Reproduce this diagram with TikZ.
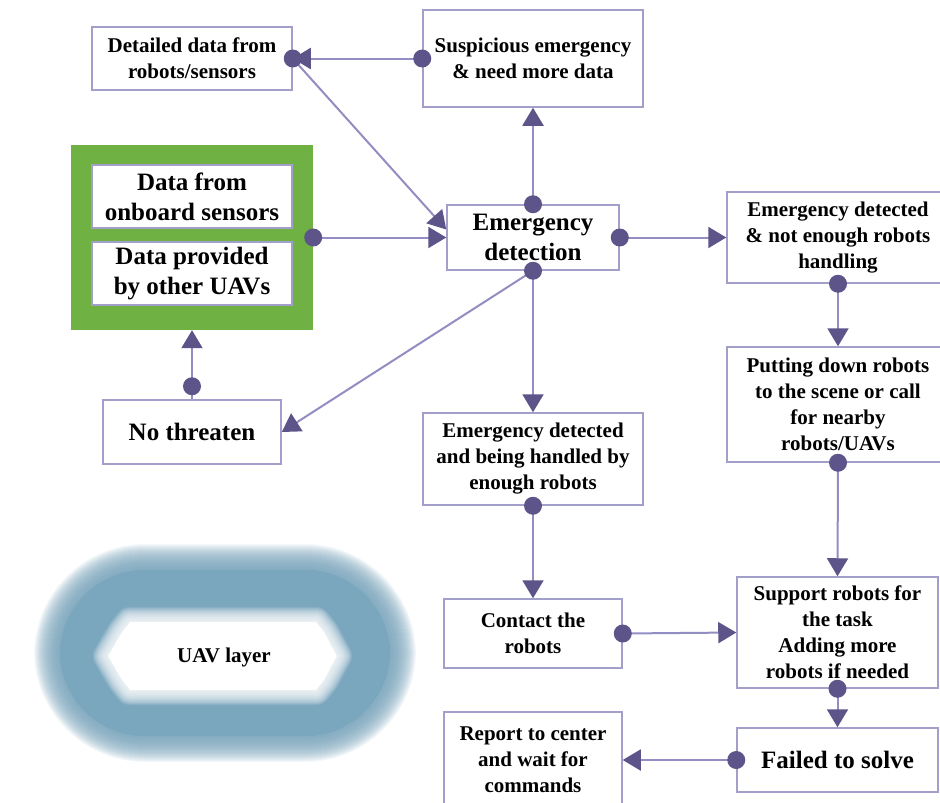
\documentclass[tikz,border=0pt]{standalone}
\usepackage{fontspec}
\setmainfont{Liberation Serif}
\usetikzlibrary{arrows.meta,calc}
\definecolor{linec}{HTML}{928DC2}
\definecolor{dotc}{HTML}{5D5589}
\definecolor{boxc}{HTML}{A39FCB}
\definecolor{greenc}{HTML}{6FB143}
\definecolor{ringc}{HTML}{7AA6BE}
\newcommand\smallf{\fontsize{21}{26}\selectfont\bfseries}
\newcommand\bigf{\fontsize{25}{30}\selectfont\bfseries}
\begin{document}
\begin{tikzpicture}[x=1pt,y=-1pt,
 box/.style={draw=boxc, line width=1.5pt, fill=white, align=center, inner sep=0pt, font=\smallf},
 bigbox/.style={box, font=\bigf},
 conn/.style={draw=linec, line width=2pt, -{Triangle[length=18pt,width=21pt,color=dotc]}},
 blob/.style={fill=dotc}]
\useasboundingbox (0,0) rectangle (940,803);
\fill[white] (0,0) rectangle (940,803);

% UAV layer ring
\fill[ringc, rounded corners=85pt] (60,570) rectangle (390,736);
\foreach \w in {2,4,...,52}
  \draw[ringc, opacity=0.075, line width=\w pt, rounded corners=85pt] (60,570) rectangle (390,736);
\def\holepath{(130,622) -- (316,622) -- (324,632) -- (337,656) -- (324,680) -- (316,690) -- (130,690) -- (122,680) -- (108,656) -- (122,632) -- cycle}
\fill[white] \holepath;
\foreach \w in {2,4,...,30}
  \draw[white, opacity=0.12, line width=\w pt, line join=round] \holepath;
\node[font=\smallf] (uav) at (224,657) {UAV layer};

% nodes
\node[box, minimum width=200pt, minimum height=63pt] (det) at (192,58.5) {Detailed data from\\robots/sensors};
\node[box, minimum width=220pt, minimum height=97pt] (sus) at (533,58.5) {Suspicious emergency\\\& need more data};
\node[fill=greenc, minimum width=242pt, minimum height=185pt, inner sep=0pt] (green) at (192,237.5) {};
\node[bigbox, minimum width=200pt, minimum height=63pt] (in1) at (192,196.5) {Data from\\onboard sensors};
\node[bigbox, minimum width=200pt, minimum height=63pt] (in2) at (192,273.5) {Data provided\\by other UAVs};
\node[bigbox, minimum width=172pt, minimum height=65pt] (ed) at (533,237.5) {Emergency\\detection};
\node[box, minimum width=222pt, minimum height=91pt] (ne) at (838,237.5) {Emergency detected\\\& not enough robots\\handling};
\node[box, minimum width=222pt, minimum height=115pt] (put) at (838,404.5) {Putting down robots\\to the scene or call\\for nearby\\robots/UAVs};
\node[box, minimum width=201pt, minimum height=111pt] (sup) at (837.5,632.5) {Support robots for\\the task\\Adding more\\robots if needed};
\node[bigbox, minimum width=201pt, minimum height=64pt] (fail) at (837.5,760) {Failed to solve};
\node[box, minimum width=178pt, minimum height=96pt] (rep) at (533,760) {Report to center\\and wait for\\commands};
\node[box, minimum width=178pt, minimum height=69pt] (cont) at (533,633.5) {Contact the\\robots};
\node[box, minimum width=220pt, minimum height=92pt] (edh) at (533,459) {Emergency detected\\and being handled by\\enough robots};
\node[bigbox, minimum width=178pt, minimum height=64pt] (nt) at (192,432) {No threaten};
\coordinate (ntdot) at ($(nt.north)+(0,-13)$);

% connectors
\draw[conn] (sus.west) -- (det.east);
\draw[conn] (det.east) -- ($(ed.west)+(0,-8)$);
\draw[conn] (green.east) -- (ed.west);
\draw[conn] (ed.north) -- (sus.south);
\draw[conn] (ed.east) -- (ne.west);
\draw[conn] (ed.south) -- (edh.north);
\draw[conn] (ed.south) -- (nt.east);
\draw[conn] (ne.south) -- (put.north);
\draw[conn] (put.south) -- (sup.north);
\draw[conn] (sup.south) -- (fail.north);
\draw[conn] (fail.west) -- (rep.east);
\draw[conn] (edh.south) -- (cont.north);
\draw[conn] (cont.east) -- (sup.west);
\draw[conn] (nt.north) -- (green.south);

% dots
\foreach \p in {sus.west, det.east, green.east, ed.north, ed.east, ed.south, ne.south, put.south, sup.south, fail.west, edh.south, cont.east, ntdot}
  \fill[blob] (\p) circle[radius=9pt];
\end{tikzpicture}
\end{document}
